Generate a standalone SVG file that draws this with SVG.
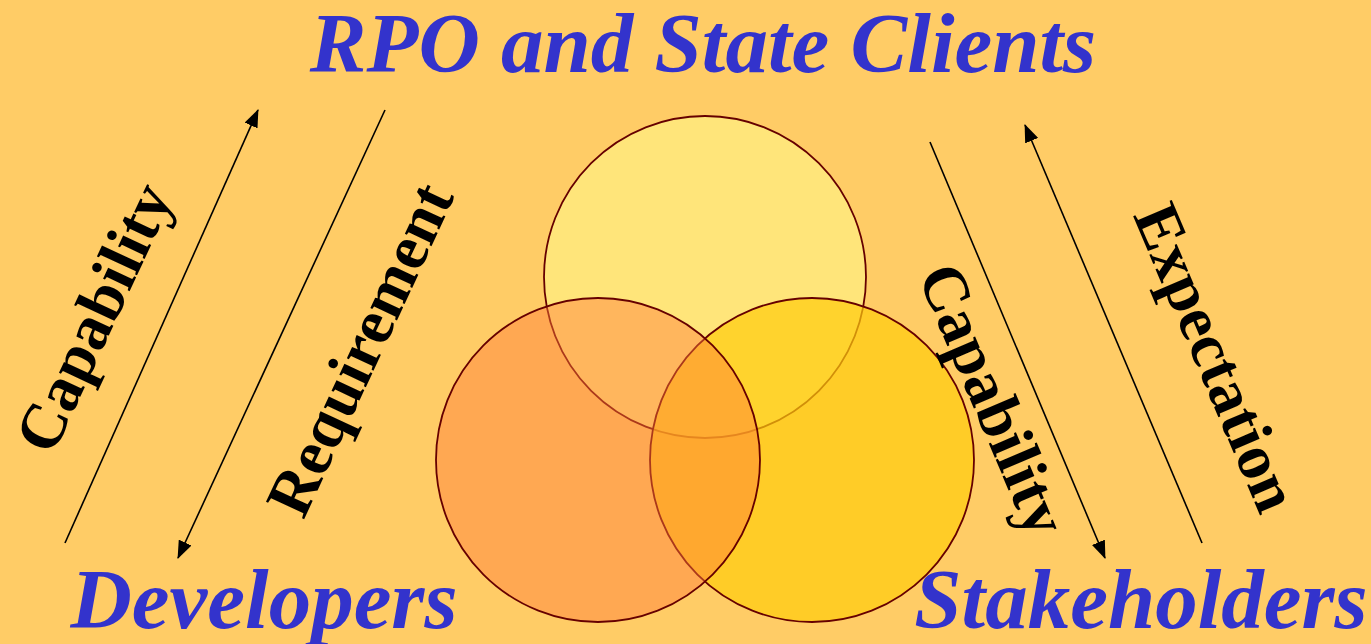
<svg xmlns="http://www.w3.org/2000/svg" width="1371" height="644" viewBox="0 0 1371 644">
<style>
.title{font-family:"Liberation Serif","Times New Roman",serif;font-weight:bold;font-style:italic;font-size:85px;fill:#3333CC}
.lab{font-family:"Liberation Serif","Times New Roman",serif;font-weight:bold;font-size:64px;fill:#000}
.conn{stroke:#000;stroke-width:1.6;fill:none}
.circ{stroke:#660000;stroke-width:1.8;stroke-opacity:1}
</style>
<defs>
<marker id="ah" markerUnits="userSpaceOnUse" markerWidth="18" markerHeight="14" refX="17" refY="7" orient="auto">
<path d="M0,0 L18,7 L0,14 z" fill="#000"/>
</marker>
</defs>
<rect width="1371" height="644" fill="#FFCC66"/>
<g id="circle-top"><circle class="circ" cx="705" cy="277" r="161" fill="#FFE57A"/></g>
<g id="circle-right"><circle class="circ" cx="812" cy="460" r="162" fill="#FFCC0D" fill-opacity="0.7"/></g>
<g id="circle-left"><circle class="circ" cx="598" cy="460" r="162" fill="#FF7C3A" fill-opacity="0.45"/></g>
<g id="connectors">
<line class="conn" x1="65" y1="543" x2="258" y2="110" marker-end="url(#ah)"/>
<line class="conn" x1="385" y1="110" x2="178" y2="558" marker-end="url(#ah)"/>
<line class="conn" x1="930" y1="142" x2="1105" y2="558" marker-end="url(#ah)"/>
<line class="conn" x1="1202" y1="543" x2="1025" y2="125" marker-end="url(#ah)"/>
</g>
<g id="title"><text class="title" x="703" y="72" text-anchor="middle">RPO and State Clients</text></g>
<g id="developers"><text class="title" x="264" y="628" text-anchor="middle">Developers</text></g>
<g id="stakeholders"><text class="title" x="1141" y="628" text-anchor="middle">Stakeholders</text></g>
<g id="label-capability-left"><text class="lab" transform="translate(95,318) rotate(-65)" x="0" y="20" text-anchor="middle">Capability</text></g>
<g id="label-requirement"><text class="lab" transform="translate(361,350) rotate(-65)" x="0" y="20" text-anchor="middle">Requirement</text></g>
<g id="label-capability-right"><text class="lab" transform="translate(992,400) rotate(67)" x="0" y="20" text-anchor="middle">Capability</text></g>
<g id="label-expectation"><text class="lab" transform="translate(1215,358) rotate(67)" x="0" y="20" text-anchor="middle">Expectation</text></g>
</svg>
